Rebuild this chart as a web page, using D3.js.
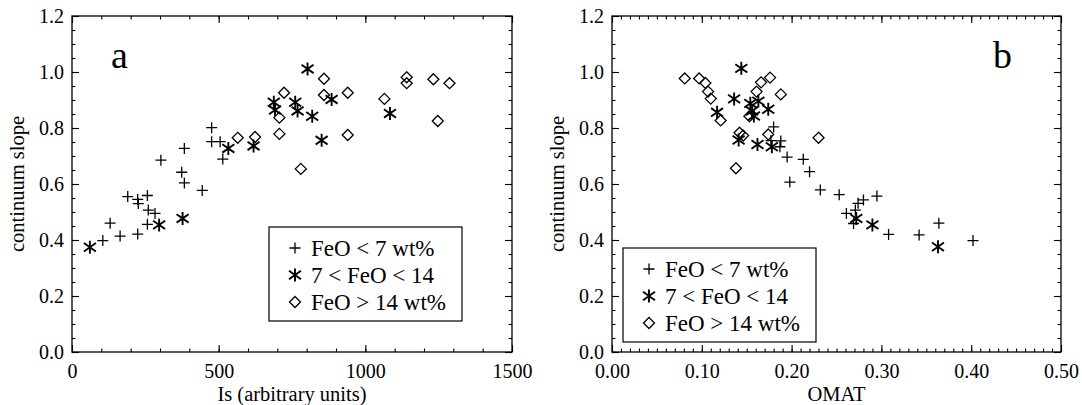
<!DOCTYPE html>
<html><head><meta charset="utf-8">
<script src="https://cdn.jsdelivr.net/npm/d3@7"></script>
<style>
html,body{margin:0;padding:0;background:#fff;}
svg text{font-family:"Liberation Serif","Times New Roman",serif;fill:#000;}
</style></head>
<body>
<svg id="chart" width="1082" height="405"></svg>
<script>
// ---------- data ----------
const seriesNames = ["FeO < 7 wt%", "7 < FeO < 14", "FeO > 14 wt%"];
const yTicks = [0.0, 0.2, 0.4, 0.6, 0.8, 1.0, 1.2];

// Panel a: Is (arbitrary units) vs continuum slope
const aLowIs   = [476, 476, 505, 514, 383, 303, 374, 383, 444, 190, 224, 226, 257, 260, 283, 257, 224, 164, 130, 105];
const aLowSl   = [0.801, 0.751, 0.751, 0.689, 0.727, 0.685, 0.642, 0.604, 0.577, 0.555, 0.545, 0.530, 0.559, 0.507, 0.495, 0.456, 0.421, 0.414, 0.460, 0.398];
const aMidIs   = [61, 297, 377, 533, 619, 688, 692, 761, 769, 803, 885, 819, 851, 1084];
const aMidSl   = [0.374, 0.454, 0.477, 0.727, 0.736, 0.892, 0.864, 0.892, 0.861, 1.011, 0.902, 0.842, 0.756, 0.852];
const aHighIs  = [565, 624, 707, 707, 723, 780, 859, 859, 940, 940, 1065, 1141, 1141, 1232, 1287, 1247];
const aHighSl  = [0.765, 0.768, 0.837, 0.779, 0.926, 0.654, 0.976, 0.918, 0.926, 0.775, 0.904, 0.981, 0.960, 0.974, 0.960, 0.825];
const aXTicks  = [0, 500, 1000, 1500];

// Panel b: OMAT vs continuum slope
const bLowOm   = [0.180, 0.188, 0.187, 0.177, 0.195, 0.213, 0.220, 0.198, 0.232, 0.253, 0.274, 0.280, 0.295, 0.261, 0.269, 0.271, 0.308, 0.342, 0.364, 0.402];
const bLowSl   = [0.804, 0.754, 0.733, 0.755, 0.696, 0.688, 0.644, 0.607, 0.579, 0.562, 0.531, 0.543, 0.557, 0.495, 0.459, 0.507, 0.420, 0.418, 0.460, 0.398];
const bMidOm   = [0.117, 0.136, 0.144, 0.141, 0.154, 0.163, 0.156, 0.158, 0.174, 0.162, 0.178, 0.272, 0.290, 0.363];
const bMidSl   = [0.856, 0.904, 1.013, 0.757, 0.888, 0.896, 0.861, 0.843, 0.867, 0.741, 0.733, 0.477, 0.454, 0.376];
const bHighOm  = [0.081, 0.097, 0.104, 0.107, 0.110, 0.121, 0.142, 0.146, 0.138, 0.153, 0.161, 0.166, 0.176, 0.188, 0.174, 0.230];
const bHighSl  = [0.977, 0.977, 0.961, 0.930, 0.905, 0.827, 0.783, 0.773, 0.656, 0.842, 0.930, 0.963, 0.980, 0.920, 0.777, 0.765];
const bXTicks  = [0.0, 0.1, 0.2, 0.3, 0.4, 0.5];

// ---------- drawing ----------
const svg = d3.select("#chart");
const symPaths = {
  plus: "M-5.5,0H5.5M0,-5.5V5.5",
  star: "M0,-6.5V6.5M-6,-4.2L6,4.2M-6,4.2L6,-4.2",
  diamond: "M0,-5.5L5.5,0L0,5.5L-5.5,0Z"
};
const symKeys = ["plus", "star", "diamond"];
const symWidth = [1.3, 1.9, 1.3];

function drawPanel(cfg) {
  const x = d3.scaleLinear().domain(cfg.xDomain).range([cfg.left, cfg.right]);
  const y = d3.scaleLinear().domain([0, 1.2]).range([352, 16]);
  const g = svg.append("g");
  const top = 16, bottom = 352;

  const minorX = d3.range(cfg.xDomain[0], cfg.xDomain[1] + cfg.xMinor / 2, cfg.xMinor);
  const minorY = d3.range(0, 1.2 + 0.025, 0.05);

  function styleAxis(sel) {
    sel.select(".domain").remove();
    sel.selectAll("line").attr("stroke", "#000").attr("stroke-width", 1.1);
    sel.selectAll("text").style("font-size", "20px").attr("fill", "#000")
      .style("font-family", "'Liberation Serif', serif");
  }
  // minor ticks
  g.append("g").attr("transform", `translate(0,${bottom})`)
    .call(d3.axisBottom(x).tickValues(minorX).tickSize(-3.5).tickFormat(""))
    .call(styleAxis);
  g.append("g").attr("transform", `translate(0,${top})`)
    .call(d3.axisTop(x).tickValues(minorX).tickSize(-3.5).tickFormat(""))
    .call(styleAxis);
  g.append("g").attr("transform", `translate(${cfg.left},0)`)
    .call(d3.axisLeft(y).tickValues(minorY).tickSize(-3.5).tickFormat(""))
    .call(styleAxis);
  g.append("g").attr("transform", `translate(${cfg.right},0)`)
    .call(d3.axisRight(y).tickValues(minorY).tickSize(-3.5).tickFormat(""))
    .call(styleAxis);
  // major ticks with labels
  g.append("g").attr("transform", `translate(0,${bottom})`)
    .call(d3.axisBottom(x).tickValues(cfg.xTicks).tickSize(-7).tickPadding(12).tickFormat(cfg.xFmt))
    .call(styleAxis);
  g.append("g").attr("transform", `translate(0,${top})`)
    .call(d3.axisTop(x).tickValues(cfg.xTicks).tickSize(-7).tickFormat(""))
    .call(styleAxis);
  g.append("g").attr("transform", `translate(${cfg.left},0)`)
    .call(d3.axisLeft(y).tickValues(yTicks).tickSize(-7).tickPadding(8).tickFormat(d3.format(".1f")))
    .call(styleAxis);
  g.append("g").attr("transform", `translate(${cfg.right},0)`)
    .call(d3.axisRight(y).tickValues(yTicks).tickSize(-7).tickFormat(""))
    .call(styleAxis);

  // frame
  g.append("rect").attr("x", cfg.left).attr("y", top)
    .attr("width", cfg.right - cfg.left).attr("height", bottom - top)
    .attr("fill", "none").attr("stroke", "#000").attr("stroke-width", 1.3);

  // titles
  g.append("text").attr("x", (cfg.left + cfg.right) / 2).attr("y", 401)
    .attr("text-anchor", "middle").style("font-size", "20.5px").text(cfg.xTitle);
  g.append("text").attr("transform", `translate(${cfg.left - 48},${(top + bottom) / 2}) rotate(-90)`)
    .attr("text-anchor", "middle").style("font-size", "20.5px").text("continuum slope");
  g.append("text").attr("x", cfg.letterX).attr("y", 68).style("font-size", "38px").text(cfg.letter);

  // points
  cfg.series.forEach((s, i) => {
    g.append("g").selectAll("path").data(d3.zip(s[0], s[1])).join("path")
      .attr("transform", d => `translate(${x(d[0])},${y(d[1])})`)
      .attr("d", symPaths[symKeys[i]])
      .attr("fill", "none").attr("stroke", "#000")
      .attr("stroke-width", symWidth[i]);
  });

  // legend
  const L = cfg.legend;
  const lg = g.append("g");
  lg.append("rect").attr("x", L.x).attr("y", L.y).attr("width", 193).attr("height", 94)
    .attr("fill", "#fff").attr("stroke", "#000").attr("stroke-width", 1.2);
  seriesNames.forEach((name, i) => {
    const cy = L.y + 21 + i * 27;
    lg.append("path").attr("transform", `translate(${L.x + 26},${cy})`)
      .attr("d", symPaths[symKeys[i]]).attr("fill", "none").attr("stroke", "#000")
      .attr("stroke-width", symWidth[i]);
    lg.append("text").attr("x", L.x + 42).attr("y", cy + 7.5)
      .style("font-size", "23px").text(name);
  });
}

drawPanel({
  xDomain: [0, 1500], left: 72, right: 512, xMinor: 100, xTicks: aXTicks,
  xFmt: d3.format("d"), xTitle: "Is (arbitrary units)", letter: "a", letterX: 111,
  series: [[aLowIs, aLowSl], [aMidIs, aMidSl], [aHighIs, aHighSl]],
  legend: {x: 269, y: 227}
});
drawPanel({
  xDomain: [0, 0.5], left: 612, right: 1061, xMinor: 0.01, xTicks: bXTicks,
  xFmt: d3.format(".2f"), xTitle: "OMAT", letter: "b", letterX: 993,
  series: [[bLowOm, bLowSl], [bMidOm, bMidSl], [bHighOm, bHighSl]],
  legend: {x: 623, y: 248}
});
</script>
</body></html>
